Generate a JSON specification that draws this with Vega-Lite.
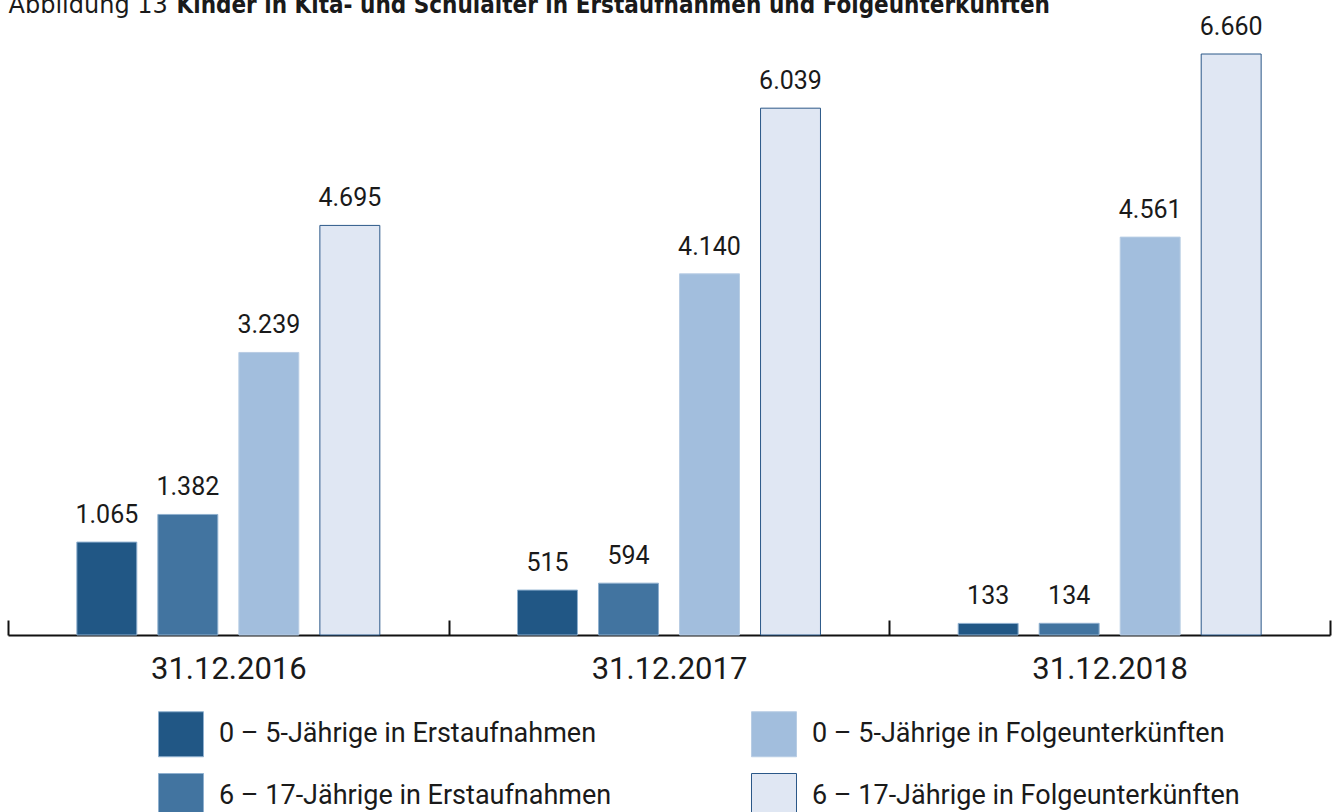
{
  "$schema": "https://vega.github.io/schema/vega-lite/v6.json",
  "autosize": "none",
  "width": 1322,
  "height": 581,
  "padding": {"left": 8, "top": 54, "right": 6, "bottom": 177},
  "background": "white",
  "config": {
    "view": {"stroke": null},
    "locale": {"number": {"decimal": ",", "thousands": ".", "grouping": [3], "currency": ["", " €"]}},
    "font": "Roboto"
  },
  "data": {
    "values": [
      {"date": "31.12.2016", "series": "0 – 5-Jährige in Erstaufnahmen", "value": 1065},
      {"date": "31.12.2016", "series": "6 – 17-Jährige in Erstaufnahmen", "value": 1382},
      {"date": "31.12.2016", "series": "0 – 5-Jährige in Folgeunterkünften", "value": 3239},
      {"date": "31.12.2016", "series": "6 – 17-Jährige in Folgeunterkünften", "value": 4695},
      {"date": "31.12.2017", "series": "0 – 5-Jährige in Erstaufnahmen", "value": 515},
      {"date": "31.12.2017", "series": "6 – 17-Jährige in Erstaufnahmen", "value": 594},
      {"date": "31.12.2017", "series": "0 – 5-Jährige in Folgeunterkünften", "value": 4140},
      {"date": "31.12.2017", "series": "6 – 17-Jährige in Folgeunterkünften", "value": 6039},
      {"date": "31.12.2018", "series": "0 – 5-Jährige in Erstaufnahmen", "value": 133},
      {"date": "31.12.2018", "series": "6 – 17-Jährige in Erstaufnahmen", "value": 134},
      {"date": "31.12.2018", "series": "0 – 5-Jährige in Folgeunterkünften", "value": 4561},
      {"date": "31.12.2018", "series": "6 – 17-Jährige in Folgeunterkünften", "value": 6660}
    ]
  },
  "encoding": {
    "x": {
      "field": "date",
      "type": "nominal",
      "sort": null,
      "scale": {"paddingInner": 0, "paddingOuter": 0},
      "axis": {
        "title": "Abbildung 13",
        "titleX": 0,
        "titleY": -623,
        "titleAlign": "left",
        "titleAnchor": "start",
        "titleBaseline": "alphabetic",
        "titleFont": "DejaVu Sans",
        "titleFontSize": 24,
        "titleFontWeight": "normal",
        "titleColor": "#1a1a1a",
        "labelAngle": 0,
        "labelFontSize": 31,
        "labelFont": "Roboto",
        "labelColor": "#1a1a1a",
        "labelPadding": 34,
        "domainColor": "#111111",
        "domainWidth": 2,
        "tickColor": "#111111",
        "tickWidth": 2,
        "tickSize": -15,
        "tickBand": "extent",
        "grid": false
      }
    },
    "xOffset": {
      "field": "series",
      "type": "nominal",
      "sort": ["0 – 5-Jährige in Erstaufnahmen", "6 – 17-Jährige in Erstaufnahmen", "0 – 5-Jährige in Folgeunterkünften", "6 – 17-Jährige in Folgeunterkünften"],
      "scale": {"paddingInner": 0.26, "paddingOuter": 0.85}
    },
    "y": {
      "field": "value",
      "type": "quantitative",
      "scale": {"domain": [0, 6660], "nice": false},
      "axis": {
        "title": "Kinder in Kita- und Schulalter in Erstaufnahmen und Folgeunterkünften",
        "titleAngle": 0,
        "titleX": 168,
        "titleY": -42,
        "titleAlign": "left",
        "titleBaseline": "alphabetic",
        "titleFont": "DejaVu Sans Condensed",
        "titleFontSize": 24,
        "titleFontWeight": "bold",
        "titleColor": "#1a1a1a",
        "labels": false,
        "ticks": false,
        "domain": false,
        "grid": false
      }
    }
  },
  "layer": [
    {
      "mark": {"type": "bar", "strokeWidth": 1},
      "encoding": {
        "fill": {
          "field": "series",
          "type": "nominal",
          "scale": {
            "domain": ["0 – 5-Jährige in Erstaufnahmen", "0 – 5-Jährige in Folgeunterkünften", "6 – 17-Jährige in Erstaufnahmen", "6 – 17-Jährige in Folgeunterkünften"],
            "range": ["#215785", "#a2bedd", "#4274a0", "#e0e7f3"]
          },
          "legend": {
            "title": null,
            "orient": "none",
            "legendX": 150,
            "legendY": 657,
            "direction": "horizontal",
            "columns": 2,
            "columnPadding": 137,
            "rowPadding": 12,
            "symbolType": "square",
            "symbolSize": 2025,
            "symbolStrokeWidth": 1,
            "labelFontSize": 27,
            "labelFont": "Roboto",
            "labelColor": "#1a1a1a",
            "labelOffset": 15,
            "labelLimit": 600
          }
        },
        "stroke": {
          "field": "series",
          "type": "nominal",
          "scale": {
            "domain": ["0 – 5-Jährige in Erstaufnahmen", "0 – 5-Jährige in Folgeunterkünften", "6 – 17-Jährige in Erstaufnahmen", "6 – 17-Jährige in Folgeunterkünften"],
            "range": ["#8fb0cf", "#b8cde4", "#8fb0cf", "#2b5888"]
          },
          "legend": null
        }
      }
    },
    {
      "mark": {"type": "text", "baseline": "alphabetic", "dy": -19, "fontSize": 25, "font": "Roboto", "color": "#1a1a1a"},
      "encoding": {
        "text": {"field": "value", "type": "quantitative", "format": ",d"}
      }
    }
  ]
}
